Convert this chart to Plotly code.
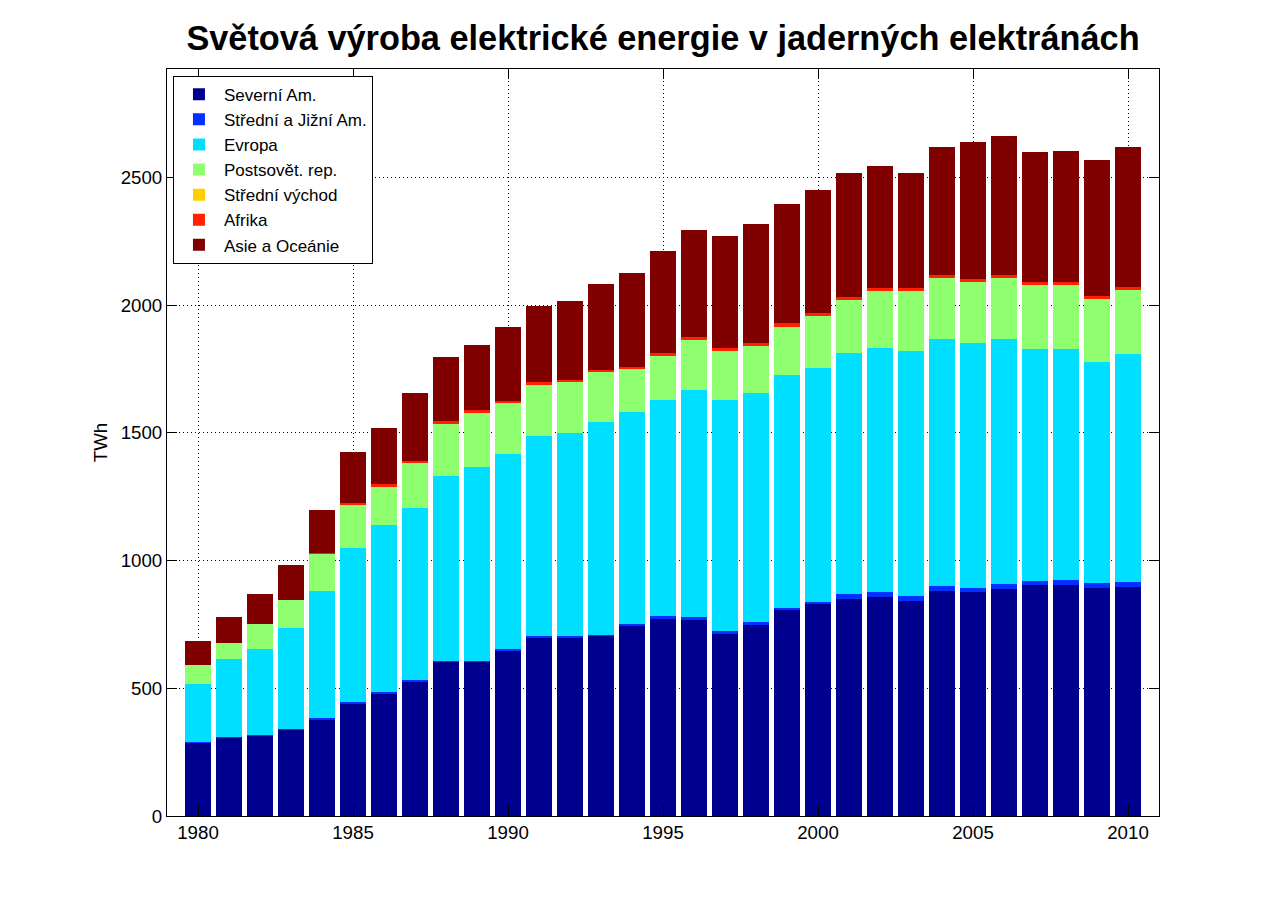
import plotly.graph_objects as go

years = list(range(1980, 2011))

severni_am = [286, 309, 317, 337, 376, 439, 477, 525, 603, 603, 646, 697, 697, 705, 744, 771,
              767, 713, 748, 807, 830, 850, 857, 842, 881, 877, 889, 904, 904, 893, 897]
jizni_am = [2, 2, 2, 4, 8, 7, 9, 7, 4, 4, 8, 8, 8, 4, 8, 12,
            12, 11, 12, 7, 8, 19, 20, 19, 19, 16, 19, 16, 20, 19, 19]
evropa = [229, 304, 335, 395, 497, 603, 653, 674, 724, 759, 763, 783, 795, 834, 830, 846,
          889, 905, 896, 913, 916, 944, 955, 960, 968, 959, 960, 909, 905, 866, 893]
postsovet = [74, 62, 98, 110, 145, 169, 149, 176, 204, 212, 200, 200, 199, 195, 168, 172,
             196, 192, 184, 188, 204, 207, 224, 235, 239, 239, 239, 250, 250, 246, 251]
stredni_vychod = [0] * 31
afrika = [0, 0, 0, 0, 4, 7, 12, 8, 12, 12, 8, 11, 8, 8, 8, 12,
          11, 11, 12, 15, 11, 12, 11, 11, 11, 11, 11, 12, 12, 12, 11]
asie = [94, 102, 117, 137, 168, 200, 219, 266, 250, 254, 289, 298, 309, 337, 368, 399,
        419, 439, 466, 466, 482, 486, 478, 451, 501, 537, 544, 509, 513, 533, 548]

series_names = ["Severní Am.", "Střední a Jižní Am.", "Evropa", "Postsovět. rep.",
                "Střední východ", "Afrika", "Asie a Oceánie"]
series_values = [severni_am, jizni_am, evropa, postsovet, stredni_vychod, afrika, asie]
series_colors = ["#00008F", "#0030FF", "#00DFFF", "#8FFF70", "#FFCF00", "#FF2000", "#800000"]

x_ticks = [1980, 1985, 1990, 1995, 2000, 2005, 2010]
y_ticks = [0, 500, 1000, 1500, 2000, 2500]

FONT = "Liberation Sans, Arial, Helvetica, sans-serif"

W, H = 1265, 901  # page body has an 8px margin

fig = go.Figure()
for name, vals, col in zip(series_names, series_values, series_colors):
    fig.add_trace(go.Bar(x=years, y=vals, name=name,
                         marker=dict(color=col, line=dict(width=0))))

fig.update_layout(
    width=W, height=H,
    barmode="stack", bargap=0.16,
    paper_bgcolor="white", plot_bgcolor="white",
    margin=dict(l=159, r=W - 1151, t=61, b=H - 808, pad=0),
    font=dict(family=FONT, size=18.7, color="black"),
    title=dict(text="<b>Světová výroba elektrické energie v jaderných elektránách</b>",
               font=dict(family=FONT, size=34.3, color="black"),
               x=0.5, xref="paper", xanchor="center",
               y=1 - 30 / H, yref="container", yanchor="middle"),
    legend=dict(x=0.006, y=0.991, xanchor="left", yanchor="top",
                bgcolor="white", bordercolor="black", borderwidth=1,
                font=dict(family=FONT, size=17, color="black"),
                itemwidth=40, traceorder="normal", itemclick=False),
    showlegend=True,
)

fig.update_xaxes(range=[1979, 2011], tickvals=x_ticks, ticktext=[str(t) for t in x_ticks],
                 showline=True, linecolor="black", linewidth=1, mirror="ticks",
                 ticks="inside", ticklen=10, tickcolor="black",
                 showgrid=True, gridcolor="black", gridwidth=1, griddash="1px,3px",
                 zeroline=False, tickfont=dict(size=18.7))
fig.update_yaxes(range=[0, 2925], tickvals=y_ticks,
                 showline=True, linecolor="black", linewidth=1, mirror="ticks",
                 ticks="inside", ticklen=10, tickcolor="black",
                 showgrid=True, gridcolor="black", gridwidth=1, griddash="1px,3px",
                 zeroline=False, tickfont=dict(size=18.7),
                 title=dict(text="TWh", standoff=8, font=dict(size=18.7)))

fig.write_html("out.html")
